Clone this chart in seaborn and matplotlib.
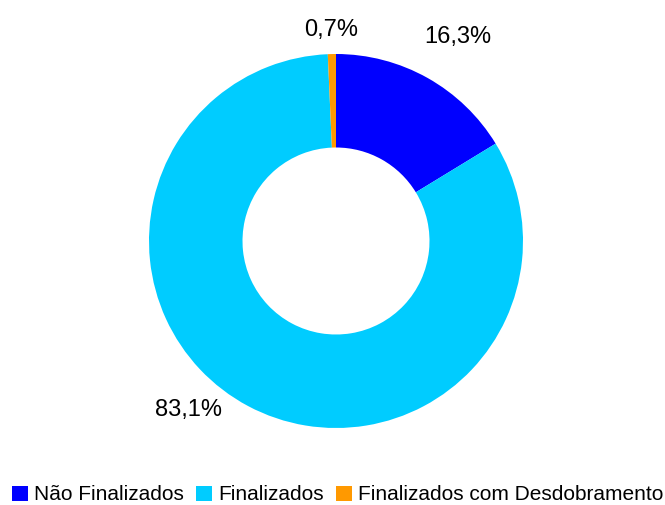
import numpy as np
import matplotlib
matplotlib.use("Agg")
import matplotlib.pyplot as plt
import seaborn as sns
from matplotlib.patches import Patch

categories = ["Não Finalizados", "Finalizados", "Finalizados com Desdobramento"]
values = [16.3, 83.1, 0.7]
labels = ["16,3%", "83,1%", "0,7%"]
colors = ["#0000FF", "#00CCFF", "#FF9900"]

sns.set_theme(style="white")
plt.rcParams['font.family'] = ['Liberation Sans', 'DejaVu Sans']
plt.rcParams['text.color'] = 'black'

fig = plt.figure(figsize=(6.65, 5.05), dpi=100)
s = 1.3
R = 187
cx, cy = 336, 505 - 241
ax = fig.add_axes([(cx - s * R) / 665, (cy - s * R) / 505, 2 * s * R / 665, 2 * s * R / 505])

wedges, _ = ax.pie(values, colors=sns.color_palette(colors), startangle=90, counterclock=False,
                   radius=1.0, wedgeprops=dict(width=0.5, linewidth=0))
ax.set_xlim(-s, s)
ax.set_ylim(-s, s)
ax.axis("off")
for w in wedges:
    w.set_clip_on(False)

# label placement: radius factor and angle offset per wedge
lab_r = [1.27, 1.20, 1.13]
lab_off = [-1.5, -13.0, 0.0]
for w, lab, r, off in zip(wedges, labels, lab_r, lab_off):
    th = np.deg2rad((w.theta1 + w.theta2) / 2 + off)
    ax.text(r * np.cos(th), r * np.sin(th), lab, ha="center", va="center",
            fontsize=17, color="black", clip_on=False)

handles = [Patch(facecolor=c, edgecolor="none") for c in colors]
fig.legend(handles, categories, loc="center", bbox_to_anchor=(338 / 665, 1 - 495 / 505),
           ncol=3, frameon=False, fontsize=15, handlelength=0.75, handleheight=0.75,
           handletextpad=0.3, columnspacing=0.6, borderaxespad=0, labelcolor="black")

fig.savefig("out.png", dpi=100)
